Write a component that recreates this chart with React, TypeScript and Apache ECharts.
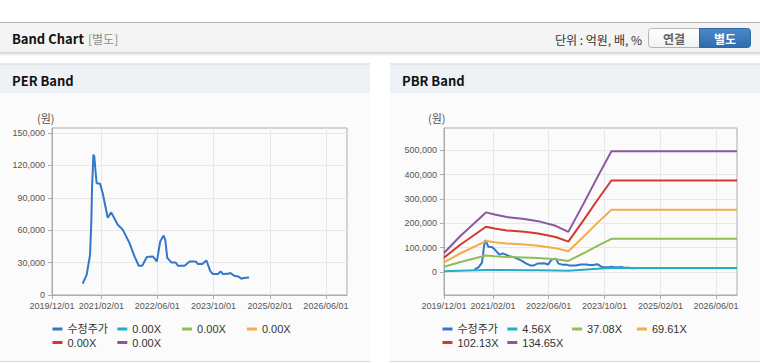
import React, { useEffect, useRef } from 'react';
import * as echarts from 'echarts';

// ---- axis ticks ----
const xTickLabels = ['2019/12/01', '2021/02/01', '2022/06/01', '2023/10/01', '2025/02/01', '2026/06/01'];
const xMinDate = '2019/12/01';
const xMaxDate = '2026/12/01';
const perYTicks = [0, 30000, 60000, 90000, 120000, 150000];
const pbrYTicks = [0, 100000, 200000, 300000, 400000, 500000];
const perYMin = 0;
const perYMax = 154600;
const pbrYMin = -94600;
const pbrYMax = 592000;

// ---- adjusted share price (수정주가) ----
const priceDates = [
  '2020-08-23', '2020-09-27', '2020-10-26', '2020-11-06', '2020-11-12', '2020-11-24', '2020-12-02',
  '2020-12-11', '2020-12-22', '2021-01-21', '2021-02-13', '2021-03-28', '2021-04-27', '2021-06-23',
  '2021-08-05', '2021-10-03', '2021-11-15', '2021-12-22', '2022-01-21', '2022-03-02', '2022-04-23',
  '2022-05-28', '2022-06-26', '2022-07-25', '2022-08-09', '2022-08-26', '2022-09-30', '2022-11-06',
  '2022-11-26', '2023-01-23', '2023-03-08', '2023-04-29', '2023-05-19', '2023-06-26', '2023-07-31',
  '2023-08-14', '2023-09-04', '2023-09-26', '2023-11-09', '2023-12-02', '2023-12-22', '2024-02-04',
  '2024-02-24', '2024-03-27', '2024-05-01', '2024-05-30', '2024-06-19', '2024-08-04',
];
const priceValues = [
  10500, 18800, 37300, 68000, 99000, 130000, 128000,
  116000, 103500, 103000, 94000, 71500, 76500, 65000,
  60500, 48000, 35700, 27100, 27100, 35200, 35700,
  31100, 49600, 55000, 51000, 34300, 30200, 30200,
  27100, 27100, 31100, 31100, 28700, 28700, 32000,
  28000, 21900, 19400, 19400, 21900, 19400, 19600,
  20400, 17900, 17200, 15100, 15700, 16300,
];

// ---- PBR bands ----
const bandDates = [
  '2019-12-01', '2020-04-15', '2020-12-01', '2021-02-15', '2021-06-01', '2021-11-01', '2022-03-01',
  '2022-08-01', '2022-11-20', '2023-04-01', '2023-08-01', '2023-12-01', '2026-12-01',
];
const band456 = [2600, 4900, 8300, 8000, 7700, 7400, 7100, 6400, 5600, 9500, 13200, 16800, 16800];
const band3708 = [21500, 40000, 67500, 65000, 62000, 60000, 57500, 52300, 45400, 77000, 107000, 136600, 136600];
const band6961 = [40000, 75000, 127000, 122000, 117000, 113000, 108000, 98000, 85000, 145000, 202000, 256000, 256000];
const band10213 = [59000, 110000, 186000, 179000, 171000, 165000, 158500, 144000, 125000, 212000, 296000, 376000, 376000];
const band13465 = [78000, 145000, 245000, 236000, 226000, 218000, 209000, 190000, 165000, 280000, 390000, 496000, 496000];

// ---- legends ----
const perLegendLabels = ['수정주가', '0.00X', '0.00X', '0.00X', '0.00X', '0.00X'];
const pbrLegendLabels = ['수정주가', '4.56X', '37.08X', '69.61X', '102.13X', '134.65X'];
const seriesColors = ['#3476c8', '#22aec6', '#8fbe55', '#f2ac48', '#d23a2f', '#8d56a1'];

const toTs = (s: string) => {
  const [y, m, d] = s.split(/[-\/]/).map(Number);
  return Date.UTC(y, m - 1, d);
};
const pad = (n: number) => (n < 10 ? '0' + n : '' + n);
const fmtDate = (v: number) => {
  const d = new Date(v);
  return `${d.getUTCFullYear()}/${pad(d.getUTCMonth() + 1)}/${pad(d.getUTCDate())}`;
};
const fmtNum = (v: number) => String(Math.round(v)).replace(/\B(?=(\d{3})+(?!\d))/g, ',');

const zip = (dates: string[], vals: number[]) => dates.map((d, i) => [toTs(d), vals[i]]);

const LATIN = "'Liberation Sans', Arial, 'Noto Sans CJK KR', sans-serif";
const KR = "'Noto Sans CJK KR', 'Noto Sans', sans-serif";

export default function App() {
  const ref = useRef<HTMLDivElement>(null);

  useEffect(() => {
    if (!ref.current) return;
    const chart = echarts.init(ref.current, undefined, { renderer: 'svg' });

    const xTicks = xTickLabels.map(toTs);
    const grids = [
      { left: 52, right: 413, top: 128, bottom: 69 },
      { left: 444, right: 23, top: 128, bottom: 69 },
    ];

    const xAxes = [0, 1].map((gi) => ({
      type: 'value',
      gridIndex: gi,
      min: toTs(xMinDate),
      max: toTs(xMaxDate),
      axisLine: { show: true, onZero: false, lineStyle: { color: '#ababab', width: 1 } },
      axisTick: { show: true, length: 4, customValues: xTicks, lineStyle: { color: '#ababab' } },
      axisLabel: {
        customValues: xTicks,
        formatter: (v: number) => fmtDate(v),
        color: '#555',
        fontSize: 9,
        fontFamily: LATIN,
        margin: 6,
        hideOverlap: false,
      },
      splitLine: { show: true, lineStyle: { color: '#e8e8e8', width: 1 } },
    }));

    const yAxes = [
      { min: perYMin, max: perYMax, ticks: perYTicks },
      { min: pbrYMin, max: pbrYMax, ticks: pbrYTicks },
    ].map((a, gi) => ({
      type: 'value',
      gridIndex: gi,
      min: a.min,
      max: a.max,
      axisLine: { show: true, lineStyle: { color: '#ababab', width: 1 } },
      axisTick: { show: true, length: 4, customValues: a.ticks, lineStyle: { color: '#ababab' } },
      axisLabel: {
        customValues: a.ticks,
        formatter: (v: number) => fmtNum(v),
        color: '#555',
        fontSize: 9,
        fontFamily: LATIN,
        margin: 7,
      },
      splitLine: { show: true, lineStyle: { color: '#e8e8e8', width: 1 } },
    }));

    const lineSeries = (id: string, gi: number, data: any[], color: string) => ({
      type: 'line',
      id,
      name: id,
      xAxisIndex: gi,
      yAxisIndex: gi,
      data,
      color,
      showSymbol: false,
      symbol: 'none',
      silent: true,
      itemStyle: { color },
      lineStyle: { color, width: 2 },
      emphasis: { disabled: true },
    });

    const perSeries = perLegendLabels.map((_, i) =>
      lineSeries('per' + i, 0, i === 0 ? zip(priceDates, priceValues) : [], seriesColors[i])
    );
    const bandArrays = [band456, band3708, band6961, band10213, band13465];
    const pbrSeries = pbrLegendLabels.map((_, i) =>
      lineSeries(
        'pbr' + i,
        1,
        i === 0 ? zip(priceDates, priceValues) : zip(bandDates, bandArrays[i - 1]),
        seriesColors[i]
      )
    );

    const makeLegends = (prefix: string, labels: string[], baseX: number) =>
      labels.map((lab, i) => ({
        show: true,
        left: baseX + (i % 4) * 64.8,
        top: i < 4 ? 323.5 : 337,
        padding: 0,
        itemWidth: 10,
        itemHeight: 3,
        icon: 'rect',
        selectedMode: false,
        data: [{ name: prefix + i, itemStyle: { color: seriesColors[i] } }],
        formatter: () => lab,
        textStyle: { color: '#333', fontSize: 11, fontFamily: LATIN },
      }));

    const panelGraphics = (px: number, title: string) => [
      { type: 'rect', z: -10, silent: true, shape: { x: px, y: 64, width: 370, height: 29 }, style: { fill: '#eef2f7' } },
      { type: 'line', z: -9, silent: true, shape: { x1: px, y1: 64, x2: px + 370, y2: 64 }, style: { stroke: '#d3d3d3', lineWidth: 1 } },
      { type: 'rect', z: -10, silent: true, shape: { x: px, y: 93, width: 370, height: 268 }, style: { fill: '#fbfbfb' } },
      { type: 'line', z: -9, silent: true, shape: { x1: px, y1: 361.5, x2: px + 370, y2: 361.5 }, style: { stroke: '#d8d8d8', lineWidth: 1 } },
      {
        type: 'text', z: 5, silent: true, x: px + 12, y: 80,
        style: { text: title, fill: '#111', font: `bold 13px ${KR}`, verticalAlign: 'middle', align: 'left' },
      },
      {
        type: 'text', z: 5, silent: true, x: px + (px === 0 ? 37 : 38), y: 118,
        style: { text: '(원)', fill: '#555', font: `11px ${KR}`, verticalAlign: 'middle', align: 'left' },
      },
    ];

    const blueGrad = new echarts.graphic.LinearGradient(0, 0, 0, 1, [
      { offset: 0, color: '#4a88c9' },
      { offset: 1, color: '#2f6cae' },
    ]);
    const whiteGrad = new echarts.graphic.LinearGradient(0, 0, 0, 1, [
      { offset: 0, color: '#ffffff' },
      { offset: 1, color: '#f1f1f1' },
    ]);

    const graphics: any[] = [
      { type: 'rect', z: -10, silent: true, shape: { x: 0, y: 22, width: 760, height: 31 }, style: { fill: '#f4f4f4' } },
      { type: 'line', z: -9, silent: true, shape: { x1: 0, y1: 22.5, x2: 760, y2: 22.5 }, style: { stroke: '#b3b3b3', lineWidth: 1 } },
      { type: 'line', z: -9, silent: true, shape: { x1: 0, y1: 53, x2: 760, y2: 53 }, style: { stroke: '#bdbdbd', lineWidth: 1 } },
      { type: 'line', z: -9, silent: true, shape: { x1: 0, y1: 54, x2: 760, y2: 54 }, style: { stroke: '#dedede', lineWidth: 1 } },
      { type: 'line', z: -9, silent: true, shape: { x1: 0, y1: 55, x2: 760, y2: 55 }, style: { stroke: '#f0f0f0', lineWidth: 1 } },
      {
        type: 'text', z: 5, silent: true, x: 12, y: 38,
        style: { text: 'Band Chart', fill: '#111', font: `bold 13px ${KR}`, verticalAlign: 'middle' },
      },
      {
        type: 'text', z: 5, silent: true, x: 88, y: 38,
        style: { text: '[별도]', fill: '#8c8c8c', font: `12px ${KR}`, verticalAlign: 'middle' },
      },
      {
        type: 'text', z: 5, silent: true, x: 642, y: 39,
        style: { text: '단위 : 억원, 배, %', fill: '#333', font: `12px ${KR}`, verticalAlign: 'middle', align: 'right' },
      },
      {
        type: 'rect', z: 1, silent: true, shape: { x: 648.5, y: 28.5, width: 51, height: 19, r: [3, 0, 0, 3] },
        style: { fill: whiteGrad, stroke: '#b4b4b4', lineWidth: 1 },
      },
      {
        type: 'text', z: 5, silent: true, x: 674, y: 38.5,
        style: { text: '연결', fill: '#666', font: `bold 12px ${KR}`, verticalAlign: 'middle', align: 'center' },
      },
      {
        type: 'rect', z: 1, silent: true, shape: { x: 699.5, y: 28.5, width: 51, height: 19, r: [0, 3, 3, 0] },
        style: { fill: blueGrad, stroke: '#2d67a6', lineWidth: 1 },
      },
      {
        type: 'text', z: 5, silent: true, x: 725, y: 38.5,
        style: { text: '별도', fill: '#fff', font: `bold 12px ${KR}`, verticalAlign: 'middle', align: 'center' },
      },
      ...panelGraphics(0, 'PER Band'),
      ...panelGraphics(390, 'PBR Band'),
    ];

    chart.setOption({
      animation: false,
      backgroundColor: '#ffffff',
      graphic: { elements: graphics },
      grid: grids.map((g) => ({
        ...g,
        show: true,
        containLabel: false,
        outerBoundsMode: 'none',
        backgroundColor: 'transparent',
        borderColor: '#ababab',
        borderWidth: 1,
      })),
      xAxis: xAxes,
      yAxis: yAxes,
      legend: [...makeLegends('per', perLegendLabels, 52.5), ...makeLegends('pbr', pbrLegendLabels, 442.5)],
      series: [...perSeries, ...pbrSeries],
    } as any);

    return () => {
      chart.dispose();
    };
  }, []);

  return (
    <div
      ref={ref}
      style={{ position: 'fixed', left: 0, top: 0, width: 760, height: 364, background: '#fff' }}
    />
  );
}
